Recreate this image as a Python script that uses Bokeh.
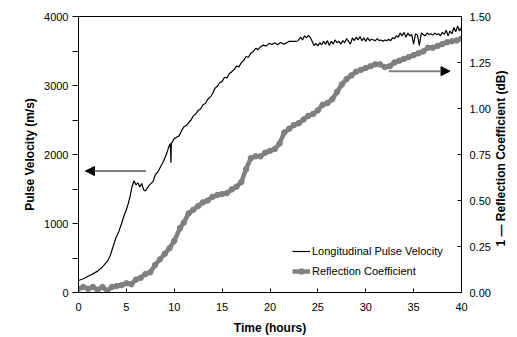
import math
from bokeh.plotting import figure
from bokeh.models import (LinearAxis, Range1d, Arrow, NormalHead, Legend,
                          LegendItem, FixedTicker, NumeralTickFormatter)
from bokeh.embed import file_html
from bokeh.resources import INLINE

# ---- data ----
vel_t = [0.0, 0.5, 1.0, 1.5, 2.0, 2.5, 3.0, 3.3, 3.6, 3.9, 4.2, 4.5, 4.8, 5.0, 5.2, 5.4,
         5.6, 5.8, 6.0, 6.2, 6.4, 6.6, 6.8, 7.0, 7.2, 7.5, 7.8, 8.0, 8.3, 8.6, 8.9, 9.2,
         9.4, 9.6, 9.65, 9.7, 10.0, 10.25, 10.5, 10.75, 11.0, 11.25, 11.5, 11.75, 12.0,
         12.25, 12.5, 12.75, 13.0, 13.25, 13.5, 13.75, 14.0, 14.25, 14.5, 14.75, 15.0,
         15.25, 15.5, 15.75, 16.0, 16.25, 16.5, 16.75, 17.0, 17.25, 17.5, 17.75, 18.0,
         18.25, 18.5, 18.75, 19.0, 19.3, 19.6, 19.9, 20.2, 20.5, 20.8, 21.1, 21.4, 21.7,
         22.0, 22.3, 22.6, 22.9, 23.2, 23.4, 23.6, 23.8, 24.0, 24.2, 24.4, 24.6, 24.8,
         25.0, 25.2, 25.4, 25.6, 25.8, 26.0, 26.2, 26.4, 26.6, 26.8, 27.0, 27.2, 27.4,
         27.6, 27.8, 28.0, 28.2, 28.4, 28.6, 28.8, 29.0, 29.2, 29.4, 29.6, 29.8, 30.0,
         30.2, 30.4, 30.6, 30.8, 31.0, 31.2, 31.4, 31.6, 31.8, 32.0, 32.2, 32.4, 32.6,
         32.8, 33.0, 33.2, 33.4, 33.6, 33.8, 34.0, 34.2, 34.4, 34.6, 34.8, 35.0, 35.2,
         35.4, 35.6, 35.8, 36.0, 36.2, 36.4, 36.6, 36.8, 37.0, 37.2, 37.4, 37.6, 37.8,
         38.0, 38.2, 38.4, 38.6, 38.8, 39.0, 39.2, 39.4, 39.6, 39.8, 40.0]
vel_v = [174, 200, 235, 270, 310, 370, 450, 530, 660, 790, 880, 1000, 1130, 1200, 1290, 1400,
         1540, 1620, 1560, 1590, 1530, 1580, 1490, 1470, 1520, 1570, 1610, 1700, 1750, 1830, 1910, 2010,
         2100, 2160, 1880, 2160, 2230, 2250, 2270, 2340, 2400, 2420, 2460, 2500, 2560,
         2590, 2640, 2660, 2720, 2740, 2800, 2830, 2880, 2960, 2990, 3040, 3060,
         3120, 3110, 3170, 3200, 3230, 3280, 3270, 3330, 3360, 3420, 3410, 3470,
         3490, 3540, 3520, 3560, 3585, 3570, 3610, 3595, 3620, 3590, 3625, 3600, 3615,
         3640, 3640, 3640, 3645, 3700, 3660, 3720, 3690, 3725, 3700, 3640, 3580, 3610,
         3575, 3620, 3590, 3640, 3600, 3650, 3580, 3640, 3600, 3660, 3620, 3640, 3600,
         3650, 3620, 3680, 3640, 3600, 3690, 3650, 3700, 3660, 3710, 3650, 3690, 3640,
         3690, 3650, 3670, 3660, 3650, 3680, 3650, 3660, 3640, 3660, 3650, 3670, 3650,
         3690, 3680, 3720, 3700, 3760, 3720, 3770, 3700, 3760, 3720, 3740, 3600, 3750,
         3730, 3580, 3760, 3740, 3720, 3760, 3740, 3750, 3730, 3760, 3740, 3750, 3720,
         3770, 3740, 3800, 3720, 3790, 3750, 3840, 3780, 3860, 3790, 3840]

refl_t = [0.0, 0.5, 1.0, 1.5, 2.0, 2.5, 3.0, 3.5, 4.0, 4.5, 5.0, 5.5, 6.0, 6.5, 7.0, 7.5,
          8.0, 8.5, 9.0, 9.5, 10.0, 10.6, 11.0, 11.5, 12.0, 12.5, 13.0, 13.5, 14.0, 14.5,
          15.0, 15.5, 16.0, 16.5, 17.0, 17.5, 18.0, 18.5, 19.0, 19.5, 20.0, 20.5, 21.0,
          21.5, 22.0, 22.5, 23.0, 23.5, 24.0, 24.5, 25.0, 25.5, 26.0, 26.5, 27.0, 27.5,
          28.0, 28.5, 29.0, 29.5, 30.0, 30.5, 31.0, 31.5, 32.0, 32.5, 33.0, 33.5, 34.0,
          34.5, 35.0, 35.5, 36.0, 36.5, 37.0, 37.5, 38.0, 38.5, 39.0, 39.5, 40.0]
refl_v = [0.02, 0.03, 0.02, 0.03, 0.015, 0.03, 0.01, 0.03, 0.035, 0.04, 0.05, 0.045, 0.07, 0.08, 0.10, 0.11,
          0.15, 0.18, 0.21, 0.24, 0.28, 0.35, 0.38, 0.43, 0.45, 0.47, 0.49, 0.50, 0.52, 0.53,
          0.535, 0.54, 0.56, 0.575, 0.60, 0.67, 0.73, 0.74, 0.74, 0.76, 0.77, 0.78, 0.81,
          0.87, 0.89, 0.91, 0.92, 0.94, 0.96, 0.97, 0.99, 1.02, 1.03, 1.05, 1.09, 1.13,
          1.16, 1.18, 1.20, 1.21, 1.22, 1.23, 1.24, 1.24, 1.225, 1.23, 1.25, 1.26, 1.27,
          1.28, 1.29, 1.30, 1.31, 1.33, 1.33, 1.34, 1.35, 1.36, 1.365, 1.37, 1.38]

x_ticks = [0, 5, 10, 15, 20, 25, 30, 35, 40]
left_ticks = [0, 1000, 2000, 3000, 4000]
left_minor = [500, 1500, 2500, 3500]
right_ticks = [0.0, 0.25, 0.5, 0.75, 1.0, 1.25, 1.5]
right_title = "1 \u2014 Reflection Coefficient (dB)"

FONT = "Liberation Sans"
GRAY = "#808080"

p = figure(width=517, height=337, output_backend="svg", toolbar_location=None,
           x_range=Range1d(0, 40), y_range=Range1d(0, 4000),
           min_border_left=78, min_border_right=55, min_border_top=16, min_border_bottom=45)
p.extra_y_ranges = {"r": Range1d(0, 1.5)}
p.grid.visible = False
p.outline_line_color = "black"
p.outline_line_width = 1
p.background_fill_color = "white"
p.border_fill_color = "white"


def style_axis(ax):
    ax.axis_line_color = "black"
    ax.major_tick_line_color = "black"
    ax.minor_tick_line_color = "black"
    ax.major_label_text_font = FONT
    ax.major_label_text_font_size = "11px"
    ax.major_label_text_color = "black"
    ax.axis_label_text_font = FONT
    ax.axis_label_text_font_size = "12px"
    ax.axis_label_text_font_style = "bold"
    ax.axis_label_text_color = "black"


# x axis
xa = p.xaxis[0]
style_axis(xa)
xa.ticker = FixedTicker(ticks=x_ticks)
xa.major_tick_in = 4
xa.major_tick_out = 0
xa.minor_tick_line_color = None
xa.major_label_standoff = 10
xa.axis_label = "Time (hours)"
xa.axis_label_standoff = 7

# left axis
ya = p.yaxis[0]
style_axis(ya)
ya.ticker = FixedTicker(ticks=left_ticks, minor_ticks=left_minor)
ya.major_tick_in = 0
ya.major_tick_out = 6
ya.minor_tick_in = 0
ya.minor_tick_out = 6
ya.major_label_standoff = 4
ya.axis_label = "Pulse Velocity (m/s)"
ya.axis_label_standoff = 4

# right axis (ticks + labels)
ra = LinearAxis(y_range_name="r")
style_axis(ra)
ra.ticker = FixedTicker(ticks=right_ticks)
ra.formatter = NumeralTickFormatter(format="0.00")
ra.major_tick_in = 4
ra.major_tick_out = 0
ra.minor_tick_line_color = None
ra.major_label_standoff = 8
p.add_layout(ra, "right")

# second right axis carrying only the title, as one rotated label (reads bottom-to-top)
rt = LinearAxis(y_range_name="r")
style_axis(rt)
rt.ticker = FixedTicker(ticks=[0.25])
rt.major_label_overrides = {0.25: right_title}
rt.major_label_orientation = math.pi / 2
rt.major_label_text_font_size = "12px"
rt.major_label_text_font_style = "bold"
rt.major_label_standoff = 7
rt.major_tick_in = 0
rt.major_tick_out = 0
rt.axis_line_color = None
rt.major_tick_line_color = None
rt.minor_tick_line_color = None
p.add_layout(rt, "right")

# series
r_refl_line = p.line(refl_t, refl_v, y_range_name="r", line_color=GRAY, line_width=4.5)
r_refl_pts = p.scatter(refl_t, refl_v, y_range_name="r", marker="circle", size=5.5,
                       fill_color=GRAY, line_color=GRAY)
r_vel = p.line(vel_t, vel_v, line_color="black", line_width=1.2)

# arrows
p.add_layout(Arrow(x_start=7.05, y_start=1760, x_end=0.73, y_end=1760,
                   line_color=GRAY, line_width=2,
                   end=NormalHead(size=9, fill_color="black", line_color="black")))
p.add_layout(Arrow(x_start=32.4, y_start=1.203, x_end=38.8, y_end=1.203, y_range_name="r",
                   line_color=GRAY, line_width=2,
                   end=NormalHead(size=9, fill_color="black", line_color="black")))

legend = Legend(items=[LegendItem(label="Longitudinal Pulse Velocity", renderers=[r_vel]),
                       LegendItem(label="Reflection Coefficient", renderers=[r_refl_line, r_refl_pts])],
                location=(214, 14), padding=0, margin=0, spacing=6,
                glyph_width=18, glyph_height=14, label_height=14, label_standoff=2,
                label_text_font=FONT, label_text_font_size="11px", label_text_color="black",
                border_line_alpha=0, background_fill_alpha=0)
p.add_layout(legend)

open("out.html", "w").write(file_html(p, INLINE))
